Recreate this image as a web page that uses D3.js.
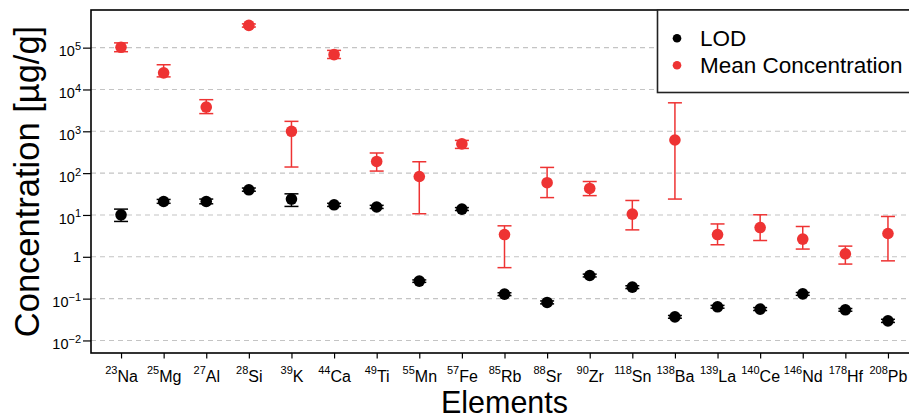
<!DOCTYPE html>
<html lang="en">
<head>
    <meta charset="UTF-8">
    <title>Concentration vs Elements</title>
    <script src="https://d3js.org/d3.v7.min.js"></script>
    <style>
        body { margin: 0; background: #fff; }
        text { font-family: "Liberation Sans", Arial, sans-serif; fill: #000; }
        .grid line { stroke: #c4c4c4; stroke-width: 1.1; stroke-dasharray: 5,4; }
        .axis path, .axis line { stroke: #000; stroke-width: 1.2; }
    </style>
</head>
<body>
    <div id="chart"></div>
    <script>
        // Data
        const elements = ["Na", "Mg", "Al", "Si", "K", "Ca", "Ti", "Mn", "Fe", "Rb",
                          "Sr", "Zr", "Sn", "Ba", "La", "Ce", "Nd", "Hf", "Pb"];
        const masses = [23, 25, 27, 28, 39, 44, 49, 55, 57, 85, 88, 90, 118, 138, 139, 140, 146, 178, 208];

        const meanVals = [1.02e5, 2.5e4, 3.8e3, 3.4e5, 1000, 6.8e4, 190, 83, 500, 3.4,
                          59, 43, 10.5, 620, 3.4, 5.0, 2.65, 1.18, 3.6];
        const meanLow  = [8.0e4, 2.0e4, 2.65e3, 3.1e5, 140, 5.5e4, 112, 10.7, 390, 0.55,
                          26, 29, 4.4, 24, 1.94, 2.45, 1.53, 0.67, 0.8];
        const meanHigh = [1.3e5, 3.9e4, 5.7e3, 3.7e5, 1730, 8.6e4, 303, 187, 606, 5.5,
                          137, 63, 22.2, 4.8e3, 6.1, 10.1, 5.3, 1.8, 9.2];

        const lodVals = [10.1, 21, 21, 40, 24, 17.5, 15.5, 0.262, 13.8, 0.128,
                         0.081, 0.357, 0.188, 0.0367, 0.0637, 0.056, 0.13, 0.054, 0.0294];
        const lodLow  = [7.0, 19, 18.5, 37, 16, 16, 14.3, 0.245, 12.8, 0.118,
                         0.075, 0.33, 0.174, 0.034, 0.059, 0.052, 0.12, 0.05, 0.027];
        const lodHigh = [13.8, 23.5, 24, 44, 32, 19, 17, 0.28, 15, 0.138,
                         0.088, 0.385, 0.203, 0.0395, 0.069, 0.061, 0.14, 0.058, 0.032];

        const yTicks = [1e-2, 1e-1, 1, 1e1, 1e2, 1e3, 1e4, 1e5];
        const yTickExp = ["\u22122", "\u22121", "", "1", "2", "3", "4", "5"];

        const W = 909, H = 418;
        const panel = {left: 91, right: 918, top: 10, bottom: 353};
        const red = "#ee3333";

        const svg = d3.select("#chart").append("svg")
            .attr("width", W)
            .attr("height", H);

        const x = d3.scalePoint()
            .domain(elements)
            .range([panel.left, panel.right])
            .padding(0.705);

        const y = d3.scaleLog()
            .domain([Math.pow(10, -2.3), Math.pow(10, 5.9)])
            .range([panel.bottom, panel.top]);

        // dashed grid lines at each decade
        svg.append("g").attr("class", "grid")
            .selectAll("line")
            .data(yTicks)
            .enter().append("line")
            .attr("x1", panel.left).attr("x2", panel.right)
            .attr("y1", d => y(d)).attr("y2", d => y(d));

        // y axis
        const yAxis = svg.append("g")
            .attr("class", "axis")
            .attr("transform", "translate(" + panel.left + ",0)")
            .call(d3.axisLeft(y).tickValues(yTicks).tickSize(8).tickPadding(2).tickFormat(""));
        yAxis.select(".domain").remove();
        yAxis.selectAll(".tick").each(function(d, i) {
            const t = d3.select(this).select("text")
                .attr("text-anchor", "end")
                .attr("x", -10)
                .attr("dy", null)
                .attr("font-size", 14.5);
            if (yTickExp[i] === "") {
                t.attr("y", 5.2).text("1");
            } else {
                t.attr("y", 8.3);
                t.append("tspan").text("10");
                t.append("tspan").attr("font-size", 11).attr("dy", -6.3).text(yTickExp[i]);
            }
        });

        // x axis
        const xAxis = svg.append("g")
            .attr("class", "axis")
            .attr("transform", "translate(0," + panel.bottom + ")")
            .call(d3.axisBottom(x).tickSize(5.5).tickFormat(""));
        xAxis.select(".domain").remove();
        xAxis.selectAll(".tick").each(function(d, i) {
            const t = d3.select(this).select("text")
                .attr("text-anchor", "middle")
                .attr("y", 29)
                .attr("dy", null);
            t.append("tspan").attr("font-size", 11).attr("dy", -8.5).text(masses[i]);
            t.append("tspan").attr("font-size", 16).attr("dy", 8.5).text(elements[i]);
        });

        // error bars + points
        function drawSeries(vals, low, high, color) {
            const g = svg.append("g");
            const idx = d3.range(elements.length);
            g.selectAll(".bar").data(idx).enter().append("line")
                .attr("x1", i => x(elements[i])).attr("x2", i => x(elements[i]))
                .attr("y1", i => y(low[i])).attr("y2", i => y(high[i]))
                .attr("stroke", color).attr("stroke-width", 1.5);
            [low, high].forEach(arr => {
                g.selectAll(null).data(idx).enter().append("line")
                    .attr("x1", i => x(elements[i]) - 7).attr("x2", i => x(elements[i]) + 7)
                    .attr("y1", i => y(arr[i])).attr("y2", i => y(arr[i]))
                    .attr("stroke", color).attr("stroke-width", 1.5);
            });
            g.selectAll("circle").data(idx).enter().append("circle")
                .attr("cx", i => x(elements[i]))
                .attr("cy", i => y(vals[i]))
                .attr("r", 5.8)
                .attr("fill", color);
        }
        drawSeries(lodVals, lodLow, lodHigh, "#000");
        drawSeries(meanVals, meanLow, meanHigh, red);

        // panel border (left, top, bottom; right edge is off the image)
        svg.append("rect")
            .attr("x", panel.left).attr("y", panel.top)
            .attr("width", panel.right - panel.left)
            .attr("height", panel.bottom - panel.top)
            .attr("fill", "none").attr("stroke", "#000").attr("stroke-width", 1.6);

        // axis titles
        svg.append("text")
            .attr("x", (panel.left + panel.right) / 2)
            .attr("y", 413)
            .attr("text-anchor", "middle")
            .attr("font-size", 30.5)
            .text("Elements");

        svg.append("text")
            .attr("transform", "translate(39," + (panel.top + panel.bottom) / 2 + ") rotate(-90)")
            .attr("text-anchor", "middle")
            .attr("font-size", 34.5)
            .text("Concentration [\u00b5g/g]");

        // legend
        const legend = svg.append("g");
        legend.append("rect")
            .attr("x", 657.5).attr("y", panel.top)
            .attr("width", 270).attr("height", 82.5)
            .attr("fill", "#fff").attr("stroke", "#222").attr("stroke-width", 1.6);
        const legItems = [{label: "LOD", color: "#000", y: 38.3}, {label: "Mean Concentration", color: red, y: 65.3}];
        legItems.forEach(d => {
            legend.append("circle").attr("cx", 677).attr("cy", d.y).attr("r", 4.3).attr("fill", d.color);
            legend.append("text").attr("x", 700).attr("y", d.y + 7.8).attr("font-size", 22.5).text(d.label);
        });
    </script>
</body>
</html>
